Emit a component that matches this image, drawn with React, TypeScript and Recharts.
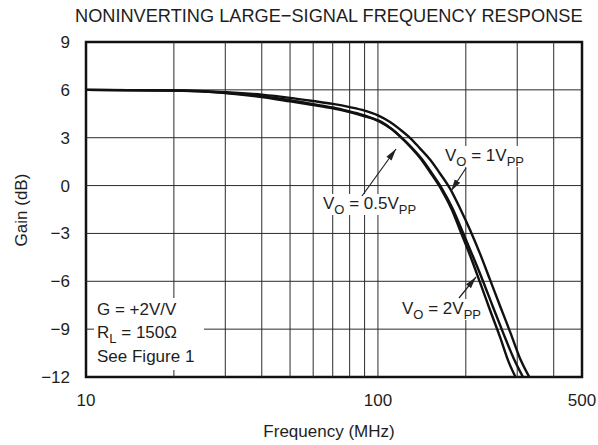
import React from "react";
import {LineChart, Line, XAxis, YAxis, ReferenceLine, ReferenceArea} from "recharts";

// frequency (MHz) / gain (dB)
const freqs1V = [10, 20, 30, 40, 50, 60, 70, 80, 90, 100, 110, 119, 129, 139, 151, 163, 177, 191, 207, 224, 242, 262, 284, 307, 330];
const gain1V = [6.0, 5.97, 5.86, 5.7, 5.5, 5.3, 5.12, 4.92, 4.7, 4.4, 3.98, 3.52, 2.98, 2.35, 1.62, 0.77, -0.22, -1.42, -2.8, -4.3, -5.9, -7.55, -9.2, -10.85, -12];

const freqs05V = [10, 20, 30, 40, 50, 60, 70, 80, 90, 103, 112, 121, 131, 142, 153, 166, 180, 194, 210, 228, 247, 268, 292, 314];
const gain05V = [6.0, 5.95, 5.8, 5.55, 5.28, 5.05, 4.84, 4.6, 4.34, 3.98, 3.52, 2.98, 2.35, 1.62, 0.77, -0.22, -1.42, -2.8, -4.3, -5.9, -7.55, -9.2, -10.85, -12];

const freqs2V = [10, 20, 30, 40, 50, 60, 70, 80, 90, 101, 111, 120, 130, 141, 152, 165, 179, 192, 207, 224, 242, 262, 281, 296];
const gain2V = [6.0, 5.96, 5.82, 5.6, 5.35, 5.1, 4.9, 4.65, 4.4, 4.02, 3.56, 3.02, 2.38, 1.62, 0.75, -0.25, -1.5, -2.9, -4.4, -6.1, -7.8, -9.5, -11.1, -12];

const gridFreqs = [20, 30, 40, 50, 60, 70, 80, 90, 100, 200, 300, 400];
const gainTicks = [-12, -9, -6, -3, 0, 3, 6, 9];
const freqTicks = [10, 100, 500];

const toPoints = (f: number[], g: number[]) => f.map((freq, i) => ({freq, gain: g[i]}));

const font = '"Liberation Sans", Arial, Helvetica, sans-serif';
const ink = "#1e1e1e";

const Sub = ({children}: {children: React.ReactNode}) => (
  <span style={{fontSize: 13, position: "relative", top: 5}}>{children}</span>
);

const Note = ({x, y, children}: {x: number; y: number; children: React.ReactNode}) => (
  <div style={{position: "absolute", left: x, top: y, background: "#fff", padding: "0 2px", fontSize: 17, lineHeight: "20px", whiteSpace: "nowrap"}}>
    {children}
  </div>
);

export default function App() {
  return (
    <div style={{position: "absolute", left: 0, top: 0, width: 598, height: 445, background: "#fff", fontFamily: font, color: ink}}>
      <LineChart width={598} height={445} margin={{top: 42, right: 16, bottom: 38, left: 46}}>
        <XAxis
          dataKey="freq"
          type="number"
          scale="log"
          domain={[10, 500]}
          ticks={freqTicks}
          allowDataOverflow
          axisLine={false}
          tickLine={false}
          tickSize={0}
          tickMargin={17}
          height={30}
          tick={{fontSize: 17, fill: ink, fontFamily: font}}
        />
        <YAxis
          type="number"
          domain={[-12, 9]}
          ticks={gainTicks}
          allowDataOverflow
          axisLine={false}
          tickLine={false}
          tickSize={0}
          tickMargin={16}
          width={40}
          tickFormatter={(v: number) => (v < 0 ? "\u2212" + Math.abs(v) : String(v))}
          tick={{fontSize: 17, fill: ink, fontFamily: font}}
        />
        {gridFreqs.map((f) => (
          <ReferenceLine key={"v" + f} x={f} stroke="#2a2a2a" strokeWidth={1} />
        ))}
        {gainTicks.slice(1, -1).map((g) => (
          <ReferenceLine key={"h" + g} y={g} stroke="#2a2a2a" strokeWidth={1} />
        ))}
        <ReferenceArea x1={10} x2={500} y1={-12} y2={9} fill="none" stroke="#111" strokeWidth={2.5} />
        <Line data={toPoints(freqs05V, gain05V)} dataKey="gain" type="monotone" stroke="#111" strokeWidth={2.4} dot={false} isAnimationActive={false} />
        <Line data={toPoints(freqs2V, gain2V)} dataKey="gain" type="monotone" stroke="#111" strokeWidth={2.4} dot={false} isAnimationActive={false} />
        <Line data={toPoints(freqs1V, gain1V)} dataKey="gain" type="monotone" stroke="#111" strokeWidth={2.4} dot={false} isAnimationActive={false} />
      </LineChart>

      <div style={{position: "absolute", left: 75, top: 6, fontSize: 18.2, whiteSpace: "nowrap"}}>
        NONINVERTING LARGE{"\u2212"}SIGNAL FREQUENCY RESPONSE
      </div>
      <div style={{position: "absolute", left: 329, top: 422, transform: "translateX(-50%)", fontSize: 17, whiteSpace: "nowrap"}}>
        Frequency (MHz)
      </div>
      <div style={{position: "absolute", left: 22, top: 210, transform: "translate(-50%, -50%) rotate(-90deg)", fontSize: 17, whiteSpace: "nowrap"}}>
        Gain (dB)
      </div>

      <div style={{position: "absolute", left: 94, top: 298, width: 110, height: 72, background: "#fff", fontSize: 17, lineHeight: "23px", paddingLeft: 3, boxSizing: "border-box"}}>
        <div>G = +2V/V</div>
        <div>R<Sub>L</Sub> = 150Ω</div>
        <div>See Figure 1</div>
      </div>

      <Note x={443} y={146}>V<Sub>O</Sub> = 1V<Sub>PP</Sub></Note>
      <Note x={321} y={194}>V<Sub>O</Sub> = 0.5V<Sub>PP</Sub></Note>
      <Note x={400} y={299}>V<Sub>O</Sub> = 2V<Sub>PP</Sub></Note>

      <svg width={598} height={445} style={{position: "absolute", left: 0, top: 0, pointerEvents: "none"}}>
        <defs>
          <marker id="arr" viewBox="0 0 12 8" refX="12" refY="4" markerWidth="12" markerHeight="8" orient="auto" markerUnits="userSpaceOnUse">
            <path d="M0,0.8 L12,4 L0,7.2 z" fill="#222" />
          </marker>
        </defs>
        <line x1={362} y1={196} x2={396} y2={149} stroke="#222" strokeWidth={1.2} markerEnd="url(#arr)" />
        <line x1={466} y1={168} x2={451} y2={191} stroke="#222" strokeWidth={1.2} markerEnd="url(#arr)" />
        <line x1={459} y1={298} x2={476} y2={277} stroke="#222" strokeWidth={1.2} markerEnd="url(#arr)" />
      </svg>
    </div>
  );
}
